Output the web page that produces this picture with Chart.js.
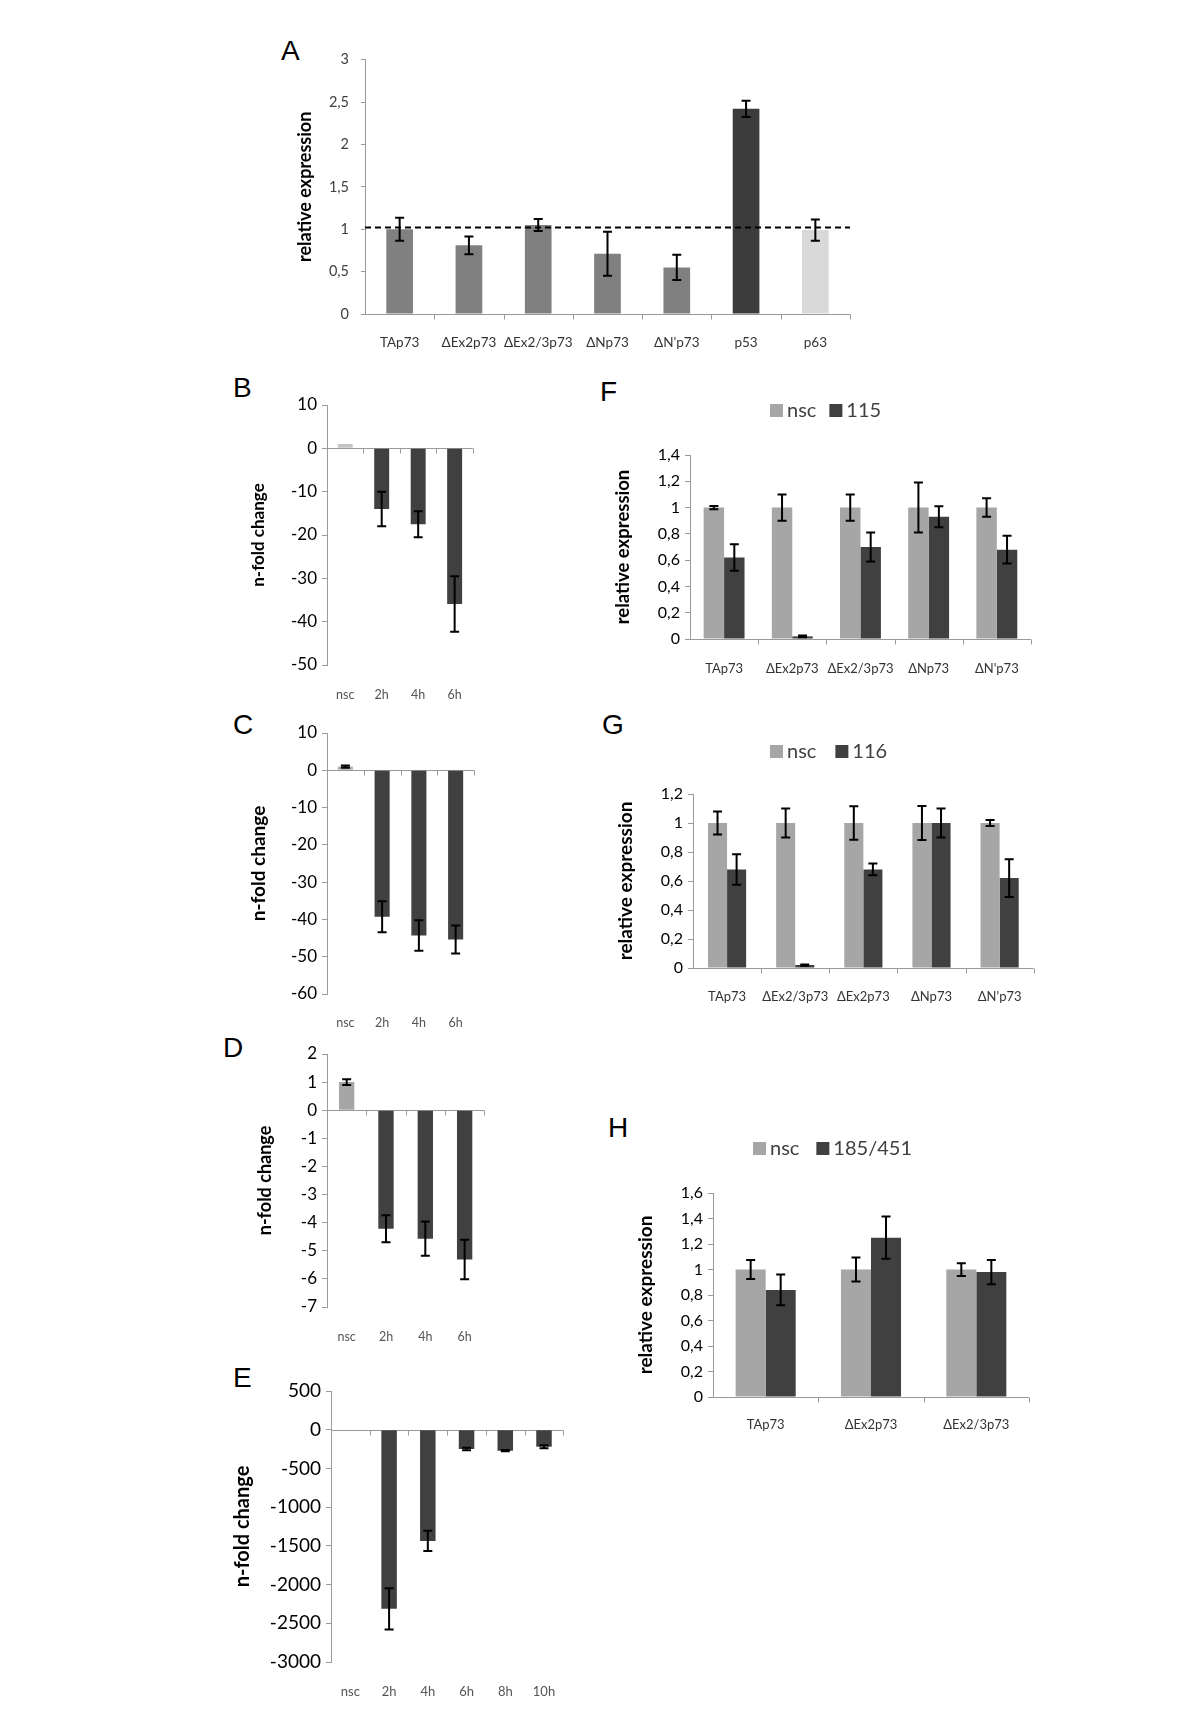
<!DOCTYPE html>
<html><head><meta charset="utf-8">
<script src="https://cdn.jsdelivr.net/npm/chart.js@4.4.1/dist/chart.umd.min.js"></script>
<style>
html,body{margin:0;padding:0;background:#fff;}
body{width:1200px;height:1734px;position:relative;overflow:hidden;}
.box{position:absolute;}
.box canvas{display:block;}
.lbl{position:absolute;font-family:"Liberation Sans",Arial,sans-serif;font-size:28px;line-height:1;color:#000;}
</style></head><body>
<div class="lbl" style="left:281px;top:37px">A</div>
<div class="lbl" style="left:233px;top:374px">B</div>
<div class="lbl" style="left:233px;top:711px">C</div>
<div class="lbl" style="left:223px;top:1034px">D</div>
<div class="lbl" style="left:233px;top:1364px">E</div>
<div class="lbl" style="left:600px;top:378px">F</div>
<div class="lbl" style="left:602px;top:711px">G</div>
<div class="lbl" style="left:608px;top:1114px">H</div>

<div class="box" id="bA"><canvas id="cA"></canvas></div>
<div class="box" id="bB"><canvas id="cB"></canvas></div>
<div class="box" id="bC"><canvas id="cC"></canvas></div>
<div class="box" id="bD"><canvas id="cD"></canvas></div>
<div class="box" id="bE"><canvas id="cE"></canvas></div>
<div class="box" id="bF"><canvas id="cF"></canvas></div>
<div class="box" id="bG"><canvas id="cG"></canvas></div>
<div class="box" id="bH"><canvas id="cH"></canvas></div>
<script>
// ---------------- DATA ----------------
const catsA = ['TAp73', 'ΔEx2p73', 'ΔEx2/3p73', 'ΔNp73', "ΔN'p73", 'p53', 'p63'];
const valsA = [1.0, 0.81, 1.05, 0.71, 0.55, 2.42, 0.99];
const errA  = [0.135, 0.105, 0.07, 0.26, 0.15, 0.095, 0.125];
const refLineA = 1.02;

const catsB = ['nsc', '2h', '4h', '6h'];
const valsB = [1, -14, -17.5, -35.9];
const errB  = [0, 4, 3, 6.4];

const catsC = ['nsc', '2h', '4h', '6h'];
const valsC = [1, -39.3, -44.3, -45.4];
const errC  = [0.3, 4.15, 4.1, 3.75];

const catsD = ['nsc', '2h', '4h', '6h'];
const valsD = [1.0, -4.22, -4.57, -5.31];
const errD  = [0.1, 0.48, 0.61, 0.7];

const catsE = ['nsc', '2h', '4h', '6h', '8h', '10h'];
const valsE = [0, -2313, -1436, -249, -271, -219];
const errE  = [0, 267, 131, 17, 8, 19];

const catsF = ['TAp73', 'ΔEx2p73', 'ΔEx2/3p73', 'ΔNp73', "ΔN'p73"];
const nscF = [1, 1, 1, 1, 1];
const nscErrF = [0.012, 0.1, 0.1, 0.19, 0.07];
const kdF = [0.62, 0.02, 0.70, 0.93, 0.68];
const kdErrF = [0.1, 0.006, 0.11, 0.08, 0.105];

const catsG = ['TAp73', 'ΔEx2/3p73', 'ΔEx2p73', 'ΔNp73', "ΔN'p73"];
const nscG = [1, 1, 1, 1, 1];
const nscErrG = [0.08, 0.1, 0.115, 0.117, 0.02];
const kdG = [0.68, 0.02, 0.68, 1.0, 0.62];
const kdErrG = [0.105, 0.005, 0.04, 0.1, 0.13];

const catsH = ['TAp73', 'ΔEx2p73', 'ΔEx2/3p73'];
const nscH = [1, 1, 1];
const nscErrH = [0.075, 0.095, 0.05];
const kdH = [0.84, 1.25, 0.98];
const kdErrH = [0.12, 0.165, 0.095];

// ---------------- STYLE / HELPERS ----------------
const FONT = 'Lato, "Noto Sans", "DejaVu Sans", sans-serif';
const DARK = '#404040', MID = '#808080', LIGHT = '#a6a6a6';
const AXIS = '#9a9a9a';

const errorBars = {
  id: 'errorBars',
  afterDatasetsDraw(chart) {
    const ctx = chart.ctx, ys = chart.scales.y;
    chart.data.datasets.forEach((ds, di) => {
      if (!ds.errors) return;
      const meta = chart.getDatasetMeta(di);
      meta.data.forEach((bar, i) => {
        const e = ds.errors[i];
        if (!e) return;
        const v = ds.data[i];
        const y1 = ys.getPixelForValue(v + e), y2 = ys.getPixelForValue(v - e);
        const cap = 4.5;
        ctx.save();
        ctx.strokeStyle = '#000';
        ctx.lineWidth = 2;
        ctx.beginPath();
        ctx.moveTo(bar.x, y1); ctx.lineTo(bar.x, y2);
        ctx.moveTo(bar.x - cap, y1); ctx.lineTo(bar.x + cap, y1);
        ctx.moveTo(bar.x - cap, y2); ctx.lineTo(bar.x + cap, y2);
        ctx.stroke();
        ctx.restore();
      });
    });
  }
};

const zeroAxis = {
  id: 'zeroAxis',
  beforeDatasetsDraw(chart) {
    const ctx = chart.ctx, xs = chart.scales.x, ys = chart.scales.y;
    const y0 = Math.round(ys.getPixelForValue(0)) + 0.5;
    const a = chart.chartArea;
    const n = xs.getLabels().length;
    const w = (a.right - a.left) / n;
    ctx.save();
    ctx.strokeStyle = AXIS;
    ctx.lineWidth = 1;
    ctx.beginPath();
    ctx.moveTo(a.left, y0); ctx.lineTo(a.right, y0);
    for (let i = 1; i <= n; i++) {
      const x = Math.round(xs.getPixelForValue(i - 1) + w / 2) + 0.5;
      ctx.moveTo(x, y0); ctx.lineTo(x, y0 + 5);
    }
    ctx.stroke();
    ctx.restore();
  }
};

const refLine = {
  id: 'refLine',
  afterDatasetsDraw(chart, args, opts) {
    if (opts.value === undefined) return;
    const ctx = chart.ctx, a = chart.chartArea;
    const y = chart.scales.y.getPixelForValue(opts.value);
    ctx.save();
    ctx.strokeStyle = '#000';
    ctx.lineWidth = 2;
    ctx.setLineDash([6, 4]);
    ctx.beginPath();
    ctx.moveTo(a.left, y); ctx.lineTo(a.right, y);
    ctx.stroke();
    ctx.restore();
  }
};

// legend drawn from the datasets' own labels and colours
const boxLegend = {
  id: 'boxLegend',
  afterDraw(chart, args, opts) {
    if (opts.x === undefined) return;
    const ctx = chart.ctx;
    let x = opts.x;
    const y = opts.y, bs = 13;
    ctx.save();
    ctx.font = '20px ' + FONT;
    ctx.textBaseline = 'middle';
    ctx.textAlign = 'left';
    chart.data.datasets.forEach(ds => {
      ctx.fillStyle = ds.backgroundColor;
      ctx.fillRect(x, Math.round(y - bs / 2), bs, bs);
      x += bs + 4;
      ctx.fillStyle = '#404040';
      ctx.fillText(ds.label, x, y + 1);
      x += ctx.measureText(ds.label).width + opts.gap;
    });
    ctx.restore();
  }
};

function comma(v) {
  return String(Number(v.toFixed(2))).replace('.', ',');
}

function place(id, L, T, W, H) {
  const b = document.getElementById(id);
  b.style.left = L + 'px'; b.style.top = T + 'px';
  b.style.width = W + 'px'; b.style.height = H + 'px';
}

function makeChart(o) {
  place('b' + o.key, o.L, o.T, o.W, o.H);
  const canvas = document.getElementById('c' + o.key);
  canvas.width = o.W; canvas.height = o.H;
  canvas.style.width = o.W + 'px'; canvas.style.height = o.H + 'px';
  return new Chart(canvas, {
    type: 'bar',
    data: { labels: o.labels, datasets: o.datasets },
    plugins: [errorBars, zeroAxis, refLine, boxLegend],
    options: {
      responsive: false,
      animation: false,
      devicePixelRatio: 1,
      layout: { padding: { top: o.padTop, right: o.padRight, left: 0, bottom: 0 } },
      plugins: {
        legend: { display: false },
        tooltip: { enabled: false },
        refLine: { value: o.refValue },
        boxLegend: o.legendPos ? { x: o.legendPos[0] - o.L, y: o.legendPos[1] - o.T, gap: o.legendPos[2] } : {}
      },
      scales: {
        x: {
          grid: { display: false, drawTicks: false },
          border: { display: false },
          ticks: {
            padding: o.xPad,
            color: o.xColor,
            font: { family: FONT, size: o.xSize },
            maxRotation: 0, autoSkip: false
          },
          afterFit: s => { s.height = o.xH; }
        },
        y: {
          min: o.min, max: o.max,
          grid: { display: true, drawOnChartArea: false, drawTicks: true, tickLength: o.yTick || 5, color: AXIS },
          border: { display: true, color: AXIS, width: 1 },
          ticks: {
            stepSize: o.step,
            padding: o.yPad,
            color: o.yColor,
            font: { family: FONT, size: o.ySize, weight: o.yWeight || 'normal' },
            callback: v => comma(v)
          },
          title: {
            display: true, text: o.yTitle,
            color: '#000',
            font: { family: FONT, size: o.tSize, weight: 'bold' },
            padding: { top: 4, bottom: 4 }
          },
          afterFit: s => { s.width = o.yW; }
        }
      }
    }
  });
}

// ---------------- PANELS ----------------
makeChart({
  key: 'A', L: 290, T: 39, W: 575, H: 325, padTop: 20, padRight: 15, yW: 75, xH: 50,
  labels: catsA,
  datasets: [{ data: valsA, errors: errA,
    backgroundColor: [MID, MID, MID, MID, MID, '#3c3c3c', '#d9d9d9'],
    categoryPercentage: 1, barPercentage: 0.385 }],
  min: 0, max: 3, step: 0.5, refValue: refLineA,
  yTitle: 'relative expression', tSize: 18,
  ySize: 14.5, yColor: '#404040', yPad: 12, yTick: 4,
  xSize: 13.5, xColor: '#333', xPad: 21
});

makeChart({
  key: 'B', L: 244, T: 385, W: 241, H: 325, padTop: 20, padRight: 10, yW: 83, xH: 45,
  labels: catsB,
  datasets: [{ data: valsB, errors: errB,
    backgroundColor: ['#c4c4c4', DARK, DARK, DARK],
    categoryPercentage: 1, barPercentage: 0.41 }],
  min: -50, max: 10, step: 10,
  yTitle: 'n-fold change', tSize: 17,
  ySize: 17, yColor: '#000', yPad: 5,
  xSize: 12.5, xColor: '#555', xPad: 22
});

makeChart({
  key: 'C', L: 243, T: 713, W: 242, H: 326, padTop: 20, padRight: 10, yW: 84, xH: 45,
  labels: catsC,
  datasets: [{ data: valsC, errors: errC,
    backgroundColor: ['#b0b0b0', DARK, DARK, DARK],
    categoryPercentage: 1, barPercentage: 0.41 }],
  min: -60, max: 10, step: 10,
  yTitle: 'n-fold change', tSize: 19,
  ySize: 17, yColor: '#000', yPad: 5,
  xSize: 12.5, xColor: '#555', xPad: 21
});

makeChart({
  key: 'D', L: 250, T: 1034, W: 245, H: 323, padTop: 20, padRight: 10, yW: 77, xH: 50,
  labels: catsD,
  datasets: [{ data: valsD, errors: errD,
    backgroundColor: [LIGHT, DARK, DARK, DARK],
    categoryPercentage: 1, barPercentage: 0.39 }],
  min: -7, max: 2, step: 1,
  yTitle: 'n-fold change', tSize: 18,
  ySize: 17, yColor: '#000', yPad: 5,
  xSize: 12.5, xColor: '#555', xPad: 22
});

makeChart({
  key: 'E', L: 227, T: 1371, W: 351, H: 331, padTop: 20, padRight: 10, yW: 104, xH: 40,
  labels: catsE,
  datasets: [{ data: valsE, errors: errE,
    backgroundColor: [LIGHT, DARK, DARK, DARK, DARK, DARK],
    categoryPercentage: 1, barPercentage: 0.4 }],
  min: -3000, max: 500, step: 500,
  yTitle: 'n-fold change', tSize: 20,
  ySize: 19, yColor: '#000', yPad: 5,
  xSize: 13, xColor: '#555', xPad: 22
});

makeChart({
  key: 'F', L: 608, T: 385, W: 433, H: 299, padTop: 70, padRight: 3, yW: 82, xH: 45,
  legendPos: [770, 410, 13],
  labels: catsF,
  datasets: [
    { label: 'nsc', data: nscF, errors: nscErrF, backgroundColor: LIGHT, categoryPercentage: 0.6, barPercentage: 1 },
    { label: '115', data: kdF, errors: kdErrF, backgroundColor: DARK, categoryPercentage: 0.6, barPercentage: 1 }
  ],
  min: 0, max: 1.4, step: 0.2,
  yTitle: 'relative expression', tSize: 18.5,
  ySize: 16, yColor: '#000', yPad: 5,
  xSize: 13, xColor: '#333', xPad: 22
});

makeChart({
  key: 'G', L: 610, T: 725, W: 433, H: 288, padTop: 69, padRight: 5, yW: 83, xH: 45,
  legendPos: [770, 751, 19],
  labels: catsG,
  datasets: [
    { label: 'nsc', data: nscG, errors: nscErrG, backgroundColor: LIGHT, categoryPercentage: 0.56, barPercentage: 1 },
    { label: '116', data: kdG, errors: kdErrG, backgroundColor: DARK, categoryPercentage: 0.56, barPercentage: 1 }
  ],
  min: 0, max: 1.2, step: 0.2,
  yTitle: 'relative expression', tSize: 19,
  ySize: 16, yColor: '#000', yPad: 5,
  xSize: 13, xColor: '#333', xPad: 21
});

makeChart({
  key: 'H', L: 630, T: 1125, W: 404, H: 317, padTop: 68, padRight: 5, yW: 83, xH: 45,
  legendPos: [753, 1148, 17],
  labels: catsH,
  datasets: [
    { label: 'nsc', data: nscH, errors: nscErrH, backgroundColor: LIGHT, categoryPercentage: 0.57, barPercentage: 1 },
    { label: '185/451', data: kdH, errors: kdErrH, backgroundColor: DARK, categoryPercentage: 0.57, barPercentage: 1 }
  ],
  min: 0, max: 1.6, step: 0.2,
  yTitle: 'relative expression', tSize: 19,
  ySize: 16, yColor: '#000', yPad: 5,
  xSize: 13, xColor: '#333', xPad: 20
});
</script>
</body></html>
